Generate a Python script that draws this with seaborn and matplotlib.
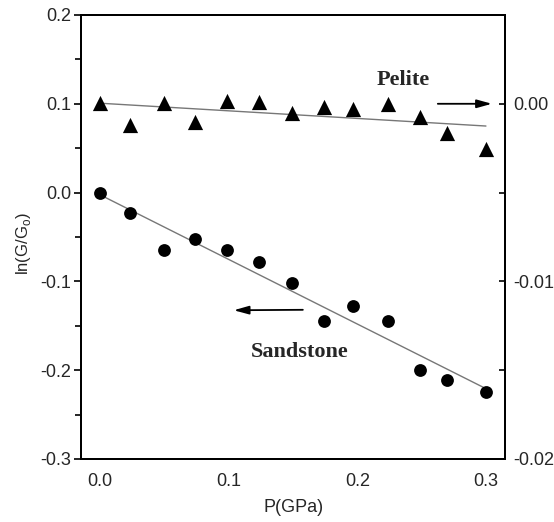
import numpy as np
import pandas as pd
import matplotlib
matplotlib.use("Agg")
import matplotlib.pyplot as plt
from matplotlib.ticker import MultipleLocator
import seaborn as sns

# pressure (GPa)
pressure = [0.0, 0.023, 0.05, 0.074, 0.099, 0.124, 0.149, 0.174, 0.197, 0.224, 0.249, 0.27, 0.3]
# ln(G/Go) sandstone, left axis
sandstone = [0.0, -0.023, -0.065, -0.0525, -0.065, -0.078, -0.102, -0.145, -0.128, -0.145, -0.2, -0.211, -0.224]
# ln(G/Go) pelite, right axis
pelite = [0.00005, -0.00117, 0.00005, -0.00103, 0.00014, 0.0001, -0.00054, -0.00017,
          -0.00031, 0.0, -0.00075, -0.00167, -0.00256]

df = pd.DataFrame({'P': pressure, 'Sandstone': sandstone, 'Pelite': pelite})

sns.set_style("white")
plt.rcParams['font.family'] = ['Liberation Sans', 'DejaVu Sans']

fig = plt.figure(figsize=(5.54, 5.22), dpi=100)
ax = fig.add_axes([0.146, 0.1207, 0.766, 0.8506])
ax2 = ax.twinx()

line_col = '#777777'
sns.regplot(data=df, x='P', y='Sandstone', ax=ax, scatter=False, ci=None,
            truncate=True, line_kws={'color': line_col, 'lw': 1.0})
sns.scatterplot(data=df, x='P', y='Sandstone', ax=ax, marker='o', s=85,
                color='black', edgecolor='black', linewidth=0, zorder=3)

sns.regplot(data=df, x='P', y='Pelite', ax=ax2, scatter=False, ci=None,
            truncate=True, line_kws={'color': line_col, 'lw': 1.0})
sns.scatterplot(data=df, x='P', y='Pelite', ax=ax2, marker='^', s=120,
                color='black', edgecolor='black', linewidth=0, zorder=3)

ax.set_xlim(-0.0148, 0.315)
ax.set_ylim(-0.3, 0.2)
ax2.set_ylim(-0.02, 0.005)

ax.xaxis.set_major_locator(MultipleLocator(0.1))
ax.xaxis.set_minor_locator(MultipleLocator(0.05))
ax.yaxis.set_major_locator(MultipleLocator(0.1))
ax.yaxis.set_minor_locator(MultipleLocator(0.05))
ax2.yaxis.set_major_locator(MultipleLocator(0.01))
ax2.yaxis.set_minor_locator(MultipleLocator(0.005))

ax.set_xticklabels([f'{v:.1f}' for v in ax.get_xticks()])
ax.set_yticklabels([f'{v:.1f}' for v in ax.get_yticks()])
ax2.set_yticklabels([f'{v:.2f}' for v in ax2.get_yticks()])

ax.tick_params(axis='both', which='major', direction='out', length=5, width=1.2,
               labelsize=13, color='black', pad=2)
ax.tick_params(axis='both', which='minor', direction='out', length=4, width=1.2,
               color='black')
ax.tick_params(axis='x', which='major', pad=5)
ax.tick_params(top=False, right=False, which='both')
ax2.tick_params(axis='y', which='major', direction='in', length=4, width=1.2,
                labelsize=13, pad=6, color='black')
ax2.tick_params(axis='y', which='minor', direction='in', length=4, width=1.2,
                color='black')

for a in (ax, ax2):
    for s in a.spines.values():
        s.set_color('black')
        s.set_linewidth(1.4)

ax.set_xlabel('P(GPa)', fontsize=13)
ax.set_ylabel(r'ln(G/G$_\mathregular{o}$)', fontsize=12)
ax2.set_ylabel('')
ax.yaxis.set_label_coords(-0.113, 0.485)
ax.xaxis.set_label_coords(0.5, -0.09)

ax.text(0.236, 0.127, 'Pelite', fontsize=16, fontweight='bold',
        family='Liberation Serif', ha='center', va='center')
ax.text(0.155, -0.1795, 'Sandstone', fontsize=16, fontweight='bold',
        family='Liberation Serif', ha='center', va='center')

arrow = dict(arrowstyle='-|>,head_length=0.9,head_width=0.25', color='black',
             lw=1.3, shrinkA=0, shrinkB=0)
ax.annotate('', xy=(0.3046, 0.1), xytext=(0.2626, 0.1), arrowprops=arrow)
ax.annotate('', xy=(0.104, -0.1325), xytext=(0.1577, -0.132), arrowprops=arrow)

fig.savefig('out.png', dpi=100)
